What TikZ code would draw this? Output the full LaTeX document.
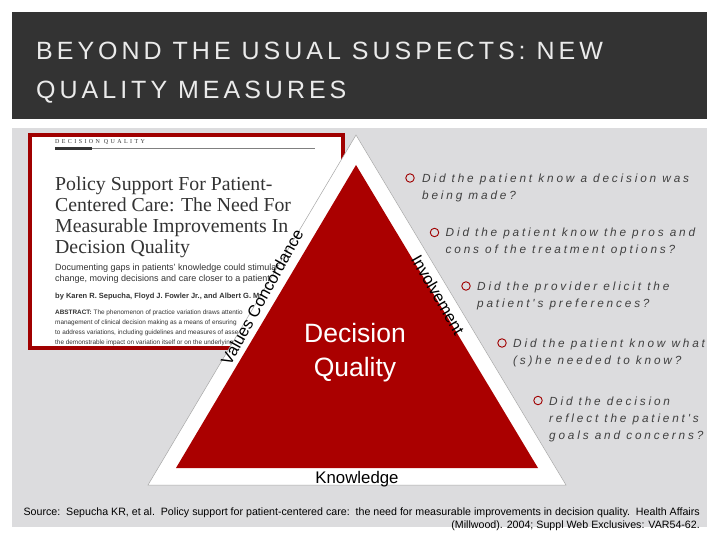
\documentclass[tikz,border=0pt]{standalone}
\usepackage{fontspec}
\setmainfont{Liberation Sans}
\newfontfamily\headfont[LetterSpace=16]{Liberation Sans}
\newfontfamily\askfont[LetterSpace=24]{Liberation Sans}
\newfontfamily\serifpart{Liberation Serif}
\newfontfamily\capsfont[LetterSpace=40]{Liberation Serif}
\definecolor{darkband}{HTML}{333333}
\definecolor{panelgrey}{HTML}{DCDCDE}
\definecolor{pyrared}{HTML}{AA0000}
\definecolor{framered}{HTML}{A00000}
\definecolor{asktext}{HTML}{404040}
\tikzset{
  headline/.style={anchor=base west, inner sep=0, text=white!92!black, font=\headfont\fontsize{25}{25}\selectfont},
  askdot/.style={circle, draw=framered, line width=0.9pt, minimum size=8.5pt, inner sep=0},
  asktxt/.style={anchor=north west, inner sep=0, align=left, text=asktext, font=\askfont\itshape\fontsize{11.8}{17}\selectfont},
  sidelabel/.style={inner sep=0, font=\fontsize{16.5}{18}\selectfont},
  artline/.style={anchor=north west, inner sep=0, text=black!80},
}
\begin{document}
\begin{tikzpicture}[x=1pt,y=-1pt]
  \useasboundingbox (0,0) rectangle (720,540);
  \fill[white] (0,0) rectangle (720,540);

  % Header and panel
  \fill[darkband] (12,12) rectangle (707,119);
  \fill[panelgrey] (12,128) rectangle (707,527);
  \node[headline] (headone) at (36,60) {BEYOND THE USUAL SUSPECTS: NEW};
  \node[headline] (headtwo) at (36,99) {QUALITY MEASURES};

  % Article clipping
  \draw[framered, fill=white, line width=4pt] (30,135) rectangle (343,348);
  \node[artline, font=\capsfont\fontsize{6}{6}\selectfont] (artcap) at (55,139.5) {DECISION QUALITY};
  \fill[black!80] (55,147) rectangle (92,150);
  \draw[black!50, line width=0.8pt] (92,148) -- (315,148);
  \node[artline, font=\serifpart\fontsize{19.8}{20.8}\selectfont, align=left] (arttitle) at (55,177)
    {Policy Support For Patient-\\Centered Care: The Need For\\Measurable Improvements In\\Decision Quality};
  \node[artline, font=\fontsize{9}{11}\selectfont, align=left] (artintro) at (55,264)
    {Documenting gaps in patients' knowledge could stimulate r\\change, moving decisions and care closer to a patient cen};
  \node[artline, font=\bfseries\fontsize{7.5}{8}\selectfont] (artby) at (55,293)
    {by Karen R. Sepucha, Floyd J. Fowler Jr., and Albert G. Mu};
  \node[artline, font=\fontsize{6.4}{10}\selectfont, align=left] (artabs) at (55,310)
    {\textbf{ABSTRACT:} The phenomenon of practice variation draws attentio\\management of clinical decision making as a means of ensuring\\to address variations, including guidelines and measures of asse\\the demonstrable impact on variation itself or on the underlying};

  % Pyramid
  \draw[black!35, fill=white, line width=0.5pt] (356,135) -- (566,485) -- (148,485) -- cycle;
  \fill[pyrared] (356,165) -- (538,468) -- (176,468) -- cycle;
  \node[inner sep=0, text=white, align=center, font=\fontsize{26.5}{34}\selectfont] (dq) at (355,353) {Decision\\Quality};
  \node[inner sep=0, font=\fontsize{16.8}{18}\selectfont] (know) at (357,479) {Knowledge};
  \node[sidelabel, rotate=61] (values) at (262,297) {Values Concordance};
  \node[sidelabel, rotate=-60] (involve) at (438,295) {Involvement};

  % Questions
  \node[askdot] (dotone) at (410,178) {};
  \node[asktxt] (askone) at (422,174) {Did the patient know a decision was\\being made?};
  \node[askdot] (dottwo) at (434.5,232.5) {};
  \node[asktxt] (asktwo) at (445.5,228) {Did the patient know the pros and\\cons of the treatment options?};
  \node[askdot] (dotthree) at (466,286) {};
  \node[asktxt] (askthree) at (477,282) {Did the provider elicit the\\patient's preferences?};
  \node[askdot] (dotfour) at (502,343) {};
  \node[asktxt] (askfour) at (513,339) {Did the patient know what\\(s)he needed to know?};
  \node[askdot] (dotfive) at (538,400.5) {};
  \node[asktxt] (askfive) at (549,396.5) {Did the decision\\reflect the patient's\\goals and concerns?};

  % Source
  \node[inner sep=0, anchor=north east, align=right, font=\fontsize{10.65}{13}\selectfont] (source) at (700,508)
    {Source:\ \ Sepucha KR, et al.\ \ Policy support for patient-centered care:\ \ the need for measurable improvements in decision quality.\ \ Health Affairs\\(Millwood). 2004; Suppl Web Exclusives: VAR54-62.};
\end{tikzpicture}
\end{document}
